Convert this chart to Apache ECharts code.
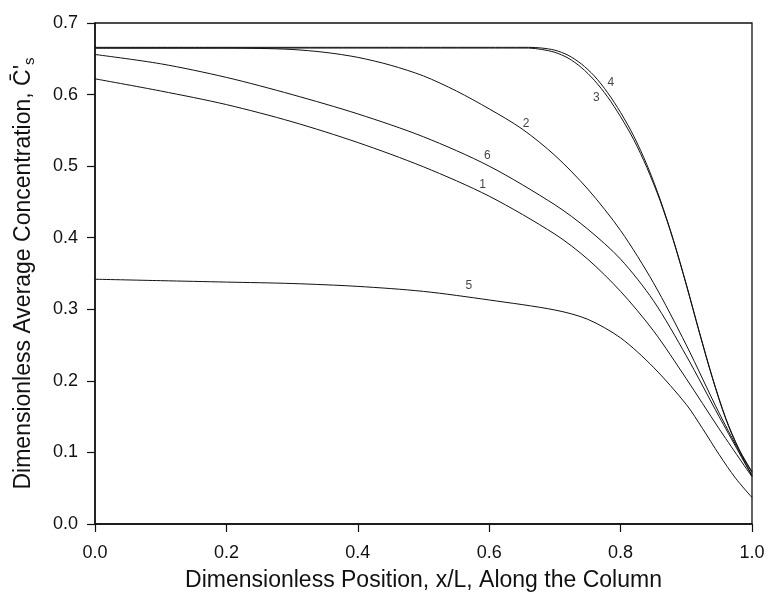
<!DOCTYPE html>
<html><head><meta charset="utf-8">
<script src="https://cdn.jsdelivr.net/npm/echarts@6/dist/echarts.min.js"></script>
<style>html,body{margin:0;padding:0;background:#fff}#c{width:770px;height:597px}</style>
</head><body><div id="c"></div>
<script>
const xTicks = [0.0, 0.2, 0.4, 0.6, 0.8, 1.0];
const yTicks = [0.0, 0.1, 0.2, 0.3, 0.4, 0.5, 0.6, 0.7];

const curve1 = [[0,0.622],[0.1,0.605],[0.2,0.586],[0.3,0.562],[0.4,0.533],[0.5,0.499],[0.6,0.458],[0.7,0.405],[0.75,0.370],[0.8,0.325],[0.85,0.270],[0.9,0.203],[0.95,0.133],[1.0,0.066]];
const curve2 = [[0,0.665],[0.1,0.665],[0.2,0.665],[0.25,0.6645],[0.3,0.663],[0.35,0.659],[0.4,0.652],[0.45,0.641],[0.5,0.626],[0.55,0.605],[0.6,0.580],[0.65,0.552],[0.7,0.515],[0.75,0.468],[0.8,0.410],[0.85,0.337],[0.9,0.250],[0.95,0.155],[1.0,0.068]];
const curve3 = [[0,0.665],[0.2,0.665],[0.4,0.665],[0.6,0.665],[0.64,0.665],[0.66,0.665],[0.68,0.663],[0.70,0.659],[0.72,0.651],[0.74,0.638],[0.76,0.620],[0.78,0.597],[0.80,0.569],[0.82,0.537],[0.84,0.498],[0.86,0.452],[0.88,0.397],[0.90,0.334],[0.92,0.267],[0.94,0.203],[0.96,0.147],[0.98,0.104],[1.0,0.072]];
const curve4 = [[0,0.666],[0.2,0.666],[0.4,0.666],[0.6,0.666],[0.64,0.666],[0.66,0.666],[0.68,0.665],[0.70,0.662],[0.72,0.655],[0.74,0.643],[0.76,0.626],[0.78,0.603],[0.80,0.575],[0.82,0.542],[0.84,0.502],[0.86,0.454],[0.88,0.398],[0.90,0.335],[0.92,0.268],[0.94,0.204],[0.96,0.148],[0.98,0.105],[1.0,0.073]];
const curve5 = [[0,0.342],[0.1,0.340],[0.2,0.338],[0.3,0.336],[0.4,0.332],[0.5,0.325],[0.6,0.313],[0.7,0.299],[0.75,0.286],[0.8,0.260],[0.85,0.219],[0.9,0.167],[0.925,0.133],[0.95,0.097],[0.975,0.064],[1.0,0.037]];
const curve6 = [[0,0.656],[0.1,0.643],[0.2,0.624],[0.3,0.600],[0.4,0.573],[0.5,0.541],[0.6,0.500],[0.7,0.446],[0.75,0.412],[0.8,0.370],[0.85,0.312],[0.9,0.235],[0.95,0.150],[1.0,0.067]];

const curveLabels = ['1','2','3','4','5','6'];
const labelPos = [[0.590,0.474],[0.656,0.559],[0.763,0.595],[0.785,0.617],[0.569,0.333],[0.597,0.515]];

const curves = [curve1, curve2, curve3, curve4, curve5, curve6];
const FONT = '"Liberation Sans", Arial, sans-serif';

const chart = echarts.init(document.getElementById('c'), null, {renderer:'canvas'});
const series = curves.map((d, i) => ({
  type: 'line', name: curveLabels[i], data: d, smooth: 0.3, symbol: 'none',
  lineStyle: {color: '#111', width: 1}, silent: true, animation: false
}));
series.push({
  type: 'scatter', symbolSize: 0, silent: true, animation: false,
  data: labelPos.map((p, i) => ({value: p, name: curveLabels[i]})),
  label: {show: true, position: 'inside', formatter: p => p.name, color: '#111', fontSize: 12, fontFamily: FONT}
});

chart.setOption({
  backgroundColor: '#fff',
  animation: false,
  grid: {left: 95, right: 18, top: 23, bottom: 71, show: true, borderColor: '#111', borderWidth: 1.3},
  xAxis: {
    type: 'value', min: xTicks[0], max: xTicks[xTicks.length-1], interval: 0.2,
    name: 'Dimensionless Position, x/L, Along the Column', nameLocation: 'middle', nameGap: 45,
    nameTextStyle: {fontSize: 23, color: '#111', fontFamily: FONT},
    axisLine: {show: true, lineStyle: {color: '#111', width: 1.5}},
    axisTick: {show: true, inside: false, length: 8, lineStyle: {color: '#111', width: 1.2}},
    axisLabel: {formatter: v => v.toFixed(1), fontSize: 18, color: '#111', margin: 20, fontFamily: FONT},
    splitLine: {show: false}
  },
  yAxis: {
    type: 'value', min: yTicks[0], max: yTicks[yTicks.length-1], interval: 0.1,
    name: 'Dimensionless Average Concentration, {c|C\u0304\'}{s|s}', nameLocation: 'middle', nameGap: 58, nameRotate: 90,
    nameTextStyle: {fontSize: 23, color: '#111', fontFamily: FONT,
      rich: {c: {fontSize: 23, fontFamily: FONT, color: '#111'}, s: {fontSize: 15, fontFamily: FONT, color: '#111', padding: [12,0,0,0]}}},
    axisLine: {show: true, lineStyle: {color: '#111', width: 1.5}},
    axisTick: {show: true, inside: false, length: 8, lineStyle: {color: '#111', width: 1.2}},
    axisLabel: {formatter: v => v.toFixed(1), fontSize: 18, color: '#111', margin: 17, fontFamily: FONT},
    splitLine: {show: false}
  },
  series: series
});
</script></body></html>
